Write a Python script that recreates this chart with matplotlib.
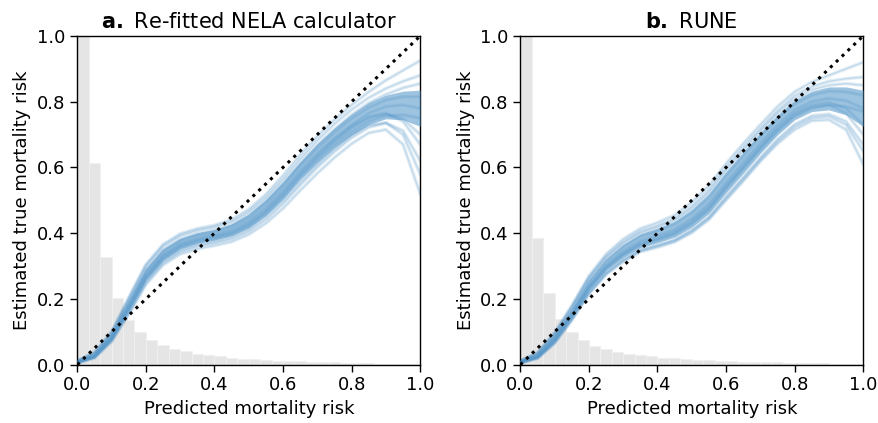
import numpy as np
import matplotlib
matplotlib.use("Agg")
import matplotlib.pyplot as plt

# ---------------- data ----------------
x_grid = [0.00, 0.05, 0.10, 0.15, 0.20, 0.25, 0.30, 0.35, 0.40, 0.45, 0.50,
          0.55, 0.60, 0.65, 0.70, 0.75, 0.80, 0.85, 0.90, 0.95, 1.00]

# histogram of predicted risk (30 equal bins on [0,1]), heights as plotted
hist_a = [2.00, 0.612, 0.327, 0.203, 0.135, 0.099, 0.075, 0.059, 0.047, 0.040,
          0.033, 0.030, 0.026, 0.020, 0.018, 0.016, 0.013, 0.011, 0.011, 0.011,
          0.008, 0.008, 0.008, 0.006, 0.005, 0.005, 0.002, 0.002, 0.002, 0.002]
hist_b = [2.00, 0.384, 0.217, 0.138, 0.100, 0.075, 0.056, 0.047, 0.038, 0.032,
          0.028, 0.025, 0.020, 0.019, 0.017, 0.014, 0.014, 0.011, 0.011, 0.008,
          0.008, 0.008, 0.008, 0.005, 0.005, 0.005, 0.005, 0.002, 0.002, 0.002]

# panel a: dense core band and individual bootstrap calibration curves
a_core_lo = [0.006, 0.023, 0.076, 0.165, 0.258, 0.318, 0.352, 0.369, 0.379, 0.392, 0.416,
             0.454, 0.504, 0.563, 0.614, 0.660, 0.698, 0.730, 0.748, 0.745, 0.725]
a_core_hi = [0.010, 0.033, 0.095, 0.195, 0.292, 0.352, 0.384, 0.401, 0.411, 0.428, 0.458,
             0.502, 0.556, 0.617, 0.672, 0.720, 0.762, 0.797, 0.820, 0.832, 0.835]
a_curves = [
    [0.008, 0.028, 0.085, 0.180, 0.275, 0.335, 0.368, 0.385, 0.395, 0.410, 0.437,
     0.478, 0.530, 0.590, 0.643, 0.690, 0.730, 0.765, 0.785, 0.790, 0.780],
    [0.012, 0.038, 0.100, 0.205, 0.305, 0.366, 0.398, 0.414, 0.424, 0.441, 0.472,
     0.518, 0.575, 0.638, 0.695, 0.745, 0.790, 0.830, 0.865, 0.895, 0.925],
    [0.011, 0.036, 0.098, 0.200, 0.300, 0.360, 0.392, 0.408, 0.418, 0.434, 0.464,
     0.508, 0.563, 0.625, 0.682, 0.732, 0.776, 0.812, 0.840, 0.862, 0.880],
    [0.005, 0.020, 0.070, 0.152, 0.243, 0.303, 0.336, 0.352, 0.362, 0.374, 0.396,
     0.430, 0.475, 0.530, 0.582, 0.630, 0.672, 0.705, 0.715, 0.670, 0.520],
    [0.006, 0.022, 0.073, 0.158, 0.250, 0.310, 0.343, 0.360, 0.370, 0.382, 0.405,
     0.441, 0.489, 0.546, 0.600, 0.648, 0.690, 0.722, 0.735, 0.712, 0.620],
    [0.007, 0.026, 0.081, 0.175, 0.270, 0.330, 0.363, 0.380, 0.390, 0.404, 0.430,
     0.470, 0.522, 0.582, 0.636, 0.684, 0.725, 0.755, 0.765, 0.740, 0.670],
    [0.009, 0.031, 0.090, 0.188, 0.284, 0.344, 0.376, 0.393, 0.403, 0.419, 0.447,
     0.490, 0.543, 0.604, 0.658, 0.706, 0.748, 0.782, 0.805, 0.815, 0.815],
    [0.006, 0.024, 0.078, 0.168, 0.262, 0.322, 0.356, 0.373, 0.383, 0.396, 0.421,
     0.460, 0.510, 0.570, 0.622, 0.668, 0.708, 0.740, 0.757, 0.760, 0.750],
    [0.010, 0.034, 0.094, 0.193, 0.290, 0.350, 0.382, 0.399, 0.409, 0.425, 0.455,
     0.498, 0.552, 0.612, 0.668, 0.716, 0.760, 0.796, 0.822, 0.842, 0.855],
    [0.007, 0.025, 0.080, 0.172, 0.266, 0.326, 0.360, 0.377, 0.387, 0.400, 0.425,
     0.465, 0.516, 0.576, 0.630, 0.678, 0.720, 0.750, 0.762, 0.748, 0.700],
    [0.006, 0.023, 0.075, 0.162, 0.255, 0.315, 0.348, 0.365, 0.375, 0.388, 0.412,
     0.450, 0.498, 0.555, 0.608, 0.656, 0.698, 0.728, 0.736, 0.700, 0.580],
]

# panel b
b_core_lo = [0.006, 0.022, 0.071, 0.143, 0.226, 0.286, 0.326, 0.356, 0.371, 0.388, 0.418,
             0.460, 0.523, 0.582, 0.643, 0.699, 0.745, 0.770, 0.775, 0.760, 0.725]
b_core_hi = [0.010, 0.032, 0.091, 0.170, 0.258, 0.322, 0.366, 0.398, 0.415, 0.436, 0.472,
             0.520, 0.587, 0.647, 0.706, 0.760, 0.805, 0.832, 0.845, 0.845, 0.835]
b_curves = [
    [0.008, 0.027, 0.081, 0.157, 0.242, 0.304, 0.346, 0.377, 0.393, 0.412, 0.445,
     0.490, 0.555, 0.615, 0.675, 0.730, 0.775, 0.800, 0.810, 0.803, 0.780],
    [0.012, 0.037, 0.098, 0.180, 0.270, 0.336, 0.382, 0.414, 0.432, 0.455, 0.494,
     0.545, 0.612, 0.672, 0.730, 0.785, 0.830, 0.860, 0.880, 0.900, 0.920],
    [0.011, 0.035, 0.095, 0.175, 0.264, 0.329, 0.374, 0.406, 0.423, 0.445, 0.482,
     0.532, 0.600, 0.660, 0.718, 0.772, 0.818, 0.846, 0.862, 0.870, 0.875],
    [0.005, 0.019, 0.065, 0.135, 0.215, 0.274, 0.313, 0.343, 0.357, 0.373, 0.401,
     0.441, 0.500, 0.558, 0.618, 0.672, 0.715, 0.742, 0.745, 0.715, 0.610],
    [0.006, 0.021, 0.068, 0.139, 0.220, 0.280, 0.320, 0.350, 0.364, 0.380, 0.410,
     0.450, 0.512, 0.570, 0.630, 0.686, 0.731, 0.757, 0.762, 0.740, 0.670],
    [0.007, 0.025, 0.078, 0.152, 0.236, 0.298, 0.339, 0.370, 0.386, 0.405, 0.437,
     0.481, 0.545, 0.605, 0.665, 0.720, 0.766, 0.790, 0.798, 0.780, 0.730],
    [0.009, 0.030, 0.087, 0.165, 0.252, 0.315, 0.358, 0.390, 0.407, 0.427, 0.461,
     0.508, 0.574, 0.634, 0.694, 0.748, 0.793, 0.820, 0.832, 0.830, 0.820],
    [0.006, 0.023, 0.074, 0.147, 0.231, 0.292, 0.333, 0.363, 0.378, 0.396, 0.427,
     0.470, 0.534, 0.594, 0.654, 0.709, 0.755, 0.780, 0.790, 0.785, 0.770],
    [0.010, 0.033, 0.092, 0.172, 0.260, 0.324, 0.368, 0.400, 0.417, 0.438, 0.474,
     0.522, 0.590, 0.650, 0.710, 0.764, 0.808, 0.836, 0.850, 0.855, 0.850],
    [0.007, 0.024, 0.076, 0.150, 0.233, 0.294, 0.336, 0.366, 0.382, 0.400, 0.432,
     0.475, 0.540, 0.600, 0.660, 0.715, 0.760, 0.784, 0.790, 0.765, 0.700],
    [0.006, 0.020, 0.067, 0.137, 0.218, 0.277, 0.317, 0.347, 0.361, 0.377, 0.406,
     0.446, 0.506, 0.564, 0.624, 0.679, 0.724, 0.750, 0.755, 0.730, 0.650],
]

titles = ["Re-fitted NELA calculator", "RUNE"]
letters = ["a", "b"]
ticks = [0.0, 0.2, 0.4, 0.6, 0.8, 1.0]
tick_labels = ["0.0", "0.2", "0.4", "0.6", "0.8", "1.0"]
n_bins = 30

# ---------------- plot ----------------
plt.rcParams["font.family"] = ["DejaVu Sans"]
fig = plt.figure(figsize=(8.79, 4.23), dpi=100)
ax_a = fig.add_axes([0.088, 0.138, 0.390, 0.777])
ax_b = fig.add_axes([0.592, 0.138, 0.390, 0.777])

blue = "#4a8fc6"
band_col = "#5b9bcb"
edges = np.linspace(0, 1, n_bins + 1)

panels = [
    (ax_a, hist_a, a_core_lo, a_core_hi, a_curves),
    (ax_b, hist_b, b_core_lo, b_core_hi, b_curves),
]
for i, (ax, hist, lo, hi, curves) in enumerate(panels):
    ax.bar(edges[:-1], hist, width=1.0 / n_bins, align="edge",
           color="#e5e5e5", edgecolor="#f0f0f0", linewidth=0.6, zorder=1)
    for c in curves:
        ax.plot(x_grid, c, color=blue, alpha=0.16, lw=2.6,
                solid_joinstyle="round", zorder=2)
        ax.plot(x_grid, c, color=blue, alpha=0.22, lw=0.9,
                solid_joinstyle="round", zorder=3)
    ax.fill_between(x_grid, lo, hi, color=band_col, alpha=0.6,
                    linewidth=0, zorder=3)
    ax.plot([0, 1], [0, 1], color="black", linestyle=":", lw=2.2, zorder=4)

    ax.set_xlim(0, 1)
    ax.set_ylim(0, 1)
    ax.set_xticks(ticks)
    ax.set_xticklabels(tick_labels)
    ax.set_yticks(ticks)
    ax.set_yticklabels(tick_labels)
    ax.tick_params(direction="out", length=5, width=1.0, labelsize=13)
    for sp in ax.spines.values():
        sp.set_linewidth(1.0)
    ax.set_xlabel("Predicted mortality risk", fontsize=13)
    ax.set_ylabel("Estimated true mortality risk", fontsize=13)
    ax.set_title(r"$\mathbf{" + letters[i] + r".}$" + " " + titles[i],
                 fontsize=15, pad=6)

fig.savefig("out.png", dpi=100)
